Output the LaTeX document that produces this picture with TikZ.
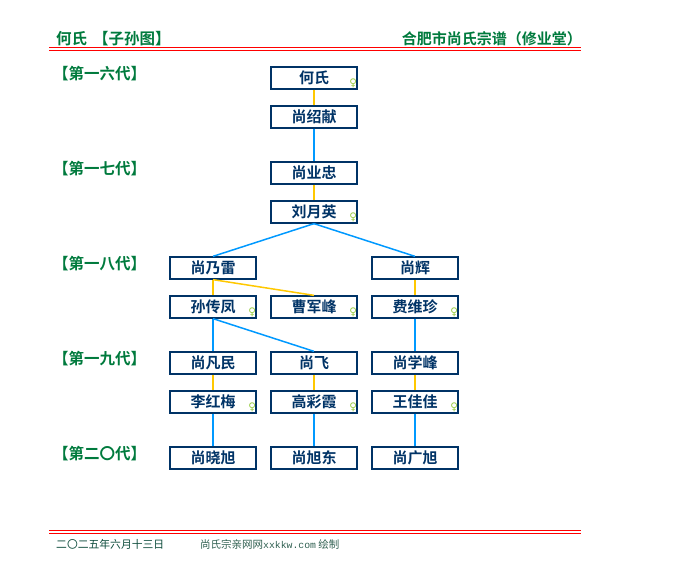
\documentclass[tikz,border=0pt]{standalone}
\usepackage{fontspec}
\newfontfamily\cjk{Noto Sans CJK SC}[BoldFont={Noto Sans CJK SC Bold}]
\newfontfamily\symf{DejaVu Sans}
\newfontfamily\monof{Liberation Mono}
\definecolor{navy}{HTML}{003366}
\definecolor{hgreen}{HTML}{007A3D}
\definecolor{gold}{HTML}{FFC800}
\definecolor{lblue}{HTML}{0099FF}
\definecolor{femc}{HTML}{99CC44}
\definecolor{foot1}{HTML}{0B4A3A}
\definecolor{foot2}{HTML}{2F5F50}
\tikzset{
  pbox/.style={draw=navy, line width=1.3pt, fill=white, minimum width=86pt, minimum height=22pt,
    inner sep=0pt, text=navy, font=\cjk\bfseries\fontsize{15}{15}\selectfont},
  femmark/.style={inner sep=0pt, text=femc, font=\symf\fontsize{10.5}{10.5}\selectfont},
  spouse/.style={draw=gold, line width=1.5pt},
  child/.style={draw=lblue, line width=1.5pt},
  redline/.style={draw=red, line width=1pt},
  gentext/.style={anchor=west, inner sep=0pt, text=hgreen, font=\cjk\bfseries\fontsize{15.5}{15.5}\selectfont},
  headtext/.style={inner sep=0pt, text=hgreen, font=\cjk\bfseries\fontsize{15.5}{15.5}\selectfont}
}
\newcommand{\femof}[1]{\node[femmark] (f#1) at ([xshift=-4.5pt,yshift=6pt]#1.south east) {♀};}
\begin{document}
\begin{tikzpicture}[x=1pt,y=-1pt]
\useasboundingbox (0,0) rectangle (680,580);
% header
\node[headtext, anchor=west] (htl) at (56,38.5) {何氏\hspace{6pt}【子孙图】};
\node[headtext, anchor=east, font=\cjk\bfseries\fontsize{15}{15}\selectfont] (htr) at (582,38.5) {合肥市尚氏宗谱（修业堂）};
\coordinate (hl1a) at (49,47.3); \coordinate (hl1b) at (581,47.3);
\coordinate (hl2a) at (49,50.5); \coordinate (hl2b) at (581,50.5);
\draw[redline] (hl1a) -- (hl1b);
\draw[redline] (hl2a) -- (hl2b);
% generation labels
\node[gentext] (g16) at (53,74) {【第一六代】};
\node[gentext] (g17) at (53,169) {【第一七代】};
\node[gentext] (g18) at (53,264) {【第一八代】};
\node[gentext] (g19) at (53,359) {【第一九代】};
\node[gentext] (g20) at (53,454) {【第二〇代】};
% persons
\node[pbox] (n1) at (314,78) {何氏};
\node[pbox] (n2) at (314,117) {尚绍献};
\node[pbox] (n3) at (314,173) {尚业忠};
\node[pbox] (n4) at (314,212) {刘月英};
\node[pbox] (a1) at (213,268) {尚乃雷};
\node[pbox] (a4) at (415,268) {尚辉};
\node[pbox] (a2) at (213,307) {孙传凤};
\node[pbox] (a3) at (314,307) {曹军峰};
\node[pbox] (a5) at (415,307) {费维珍};
\node[pbox] (b1) at (213,363) {尚凡民};
\node[pbox] (b2) at (314,363) {尚飞};
\node[pbox] (b3) at (415,363) {尚学峰};
\node[pbox] (b4) at (213,402) {李红梅};
\node[pbox] (b5) at (314,402) {高彩霞};
\node[pbox] (b6) at (415,402) {王佳佳};
\node[pbox] (c1) at (213,458) {尚晓旭};
\node[pbox] (c2) at (314,458) {尚旭东};
\node[pbox] (c3) at (415,458) {尚广旭};
% female marks
\femof{n1}\femof{n4}\femof{a2}\femof{a3}\femof{a5}\femof{b4}\femof{b5}\femof{b6}
% connectors
\draw[spouse] (n1.south) -- (n2.north);
\draw[child] (n2.south) -- (n3.north);
\draw[spouse] (n3.south) -- (n4.north);
\draw[child] (n4.south) -- (a1.north);
\draw[child] (n4.south) -- (a4.north);
\draw[spouse] (a1.south) -- (a2.north);
\draw[spouse] (a1.south) -- (a3.north);
\draw[spouse] (a4.south) -- (a5.north);
\draw[child] (a2.south) -- (b1.north);
\draw[child] (a2.south) -- (b2.north);
\draw[child] (a5.south) -- (b3.north);
\draw[spouse] (b1.south) -- (b4.north);
\draw[spouse] (b2.south) -- (b5.north);
\draw[spouse] (b3.south) -- (b6.north);
\draw[child] (b4.south) -- (c1.north);
\draw[child] (b5.south) -- (c2.north);
\draw[child] (b6.south) -- (c3.north);
% footer
\coordinate (fl1a) at (49,530); \coordinate (fl1b) at (581,530);
\coordinate (fl2a) at (49,533.5); \coordinate (fl2b) at (581,533.5);
\draw[redline] (fl1a) -- (fl1b);
\draw[redline] (fl2a) -- (fl2b);
\node[anchor=west, inner sep=0pt, text=foot1, font=\cjk\fontsize{10.8}{10.8}\selectfont] (ft1) at (56,544) {二〇二五年六月十三日};
\node[anchor=west, inner sep=0pt, text=foot2, font=\cjk\fontsize{10.5}{10.5}\selectfont] (ft2) at (200,544) {尚氏宗亲网网{\monof\fontsize{9.8}{9.8}\selectfont xxkkw.com} 绘制};
\end{tikzpicture}
\end{document}
